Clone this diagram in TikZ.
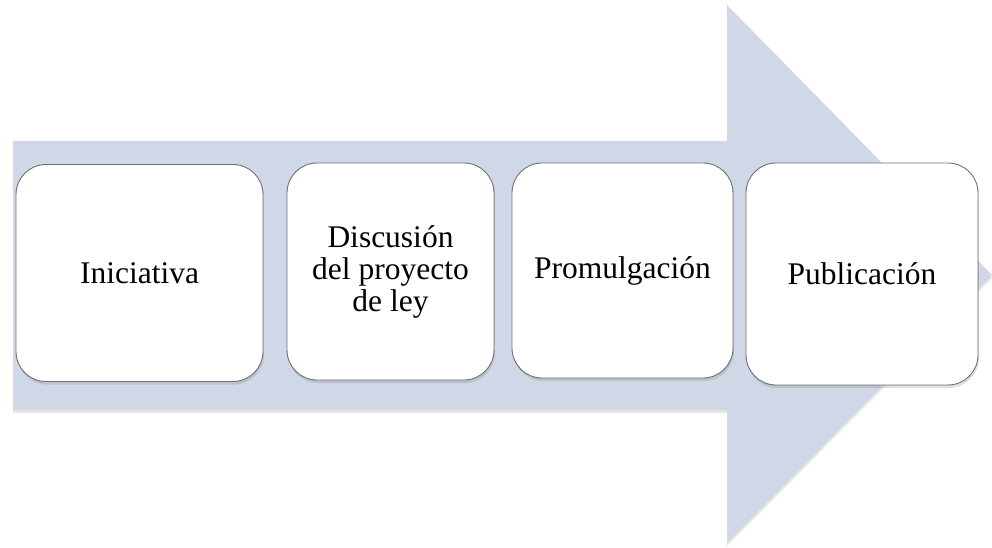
\documentclass[tikz,border=0pt]{standalone}
\usepackage{fontspec}
\setmainfont{Liberation Serif}
\usetikzlibrary{shadows}
\definecolor{arrowblue}{RGB}{208,215,231}
\definecolor{stepgray}{RGB}{112,112,112}
\tikzset{
  stepbox/.style={draw=stepgray, line width=0.9pt, fill=white, rounded corners=30pt,
    align=center, inner sep=4pt,
    drop shadow={shadow xshift=1pt, shadow yshift=-3pt, opacity=0.25},
    font=\fontsize{31.5}{32}\selectfont}
}
\begin{document}
\begin{tikzpicture}[x=1pt, y=-1pt]
  \useasboundingbox (0,0) rectangle (992,548);

  % big process arrow
  \fill [arrowblue, drop shadow={shadow xshift=0pt, shadow yshift=-3pt, opacity=0.2}]
    (13,141) -- (727,141) -- (727,5) -- (992,275) -- (727,543) -- (727,410) -- (13,410) -- cycle;

  \node [stepbox, minimum width=247pt, minimum height=217pt] (ini) at (139.5,273) {Iniciativa};
  \node [stepbox, minimum width=207pt, minimum height=217pt] (disc) at (390.5,271.5) {Discusión\\del proyecto\\de ley};
  \node [stepbox, minimum width=221pt, minimum height=215pt] (prom) at (622.5,270.5) {Promulgación};
  \node [stepbox, minimum width=232pt, minimum height=222pt] (pub) at (862,274) {Publicación};
\end{tikzpicture}
\end{document}
